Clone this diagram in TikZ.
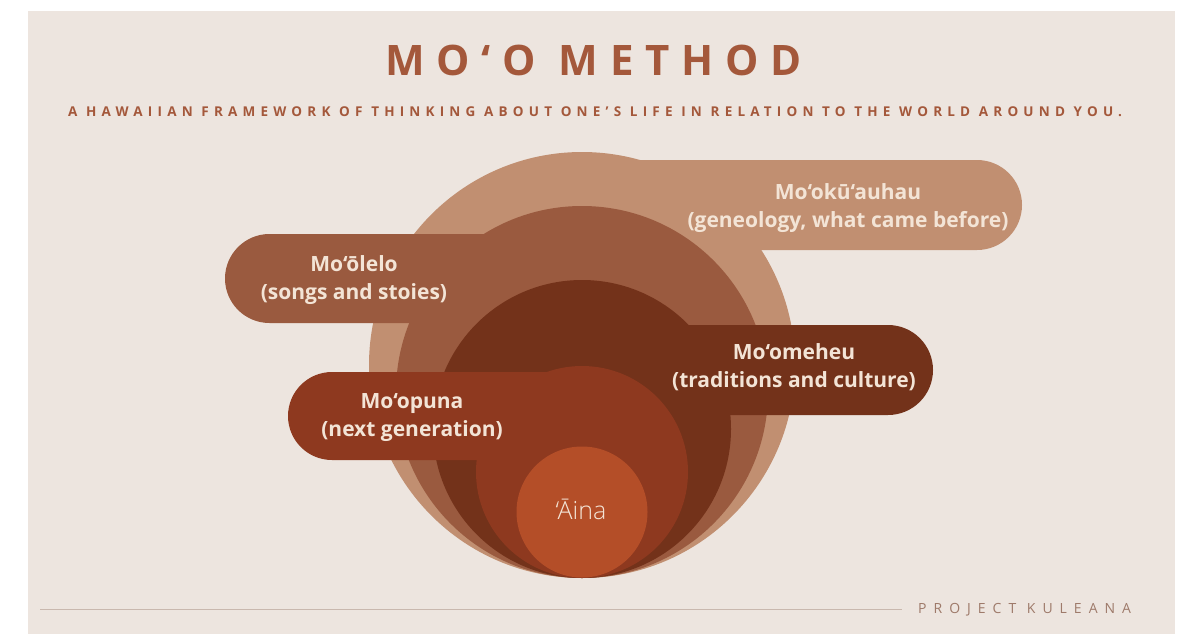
\documentclass[tikz,border=0pt]{standalone}
\usepackage{fontspec}
\setmainfont{Open Sans}
\newfontfamily\thinfont{Open Sans Light}

\definecolor{paper}{HTML}{EDE5DF}
\definecolor{tan}{HTML}{C18F71}
\definecolor{clay}{HTML}{9A5A3F}
\definecolor{umber}{HTML}{73321A}
\definecolor{rust}{HTML}{8E391F}
\definecolor{ember}{HTML}{B44E28}
\definecolor{cream}{HTML}{F3E4D6}
\definecolor{ink}{HTML}{A4583B}
\definecolor{rule}{HTML}{C9B8AE}
\definecolor{faint}{HTML}{9E7A6A}

\tikzset{
  word/.style={anchor=base, text=cream, inner sep=0pt,
    font=\fontsize{21}{24}\selectfont\bfseries},
}

\begin{document}
\begin{tikzpicture}[x=1pt, y=-1pt]
\useasboundingbox (0,0) rectangle (1190,634);
\fill[white] (0,0) rectangle (1190,634);
\fill[paper] (28,11) rectangle (1175,634);

% heading
\node[anchor=west, inner sep=0pt, text=ink, font=\fontsize{42}{42}\selectfont\bfseries\addfontfeature{LetterSpace=28}] (title) at (385,60) {MO‘O METHOD};
\node[anchor=west, inner sep=0pt, text=ink, font=\fontsize{13.5}{14}\selectfont\bfseries\addfontfeature{LetterSpace=38.5}] (subtitle) at (68,112) {A HAWAIIAN FRAMEWORK OF THINKING ABOUT ONE’S LIFE IN RELATION TO THE WORLD AROUND YOU.};

% rings, outermost first, each with its tab
\fill[tan] (582,365) circle (213pt);
\fill[tan, rounded corners=45pt] (540,160) rectangle (1022,250);
\fill[clay] (582,392) circle (186pt);
\fill[clay, rounded corners=44.5pt] (225,234) rectangle (640,323);
\fill[umber] (582,429) circle (149pt);
\fill[umber, rounded corners=45pt] (520,325) rectangle (933,415);
\fill[rust] (582,472) circle (106pt);
\fill[rust, rounded corners=44pt] (288,372) rectangle (640,460);
\fill[ember] (582,512) circle (65.5pt);

% tab texts
\node[word] (okuname) at (848,199) {Mo‘okū‘auhau};
\node[word] (okunote) at (848,227) {(geneology, what came before)};
\node[word] (olename) at (354,271) {Mo‘ōlelo};
\node[word] (olenote) at (354,299) {(songs and stoies)};
\node[word] (mehname) at (794,359) {Mo‘omeheu};
\node[word] (mehnote) at (794,387) {(traditions and culture)};
\node[word] (punname) at (412,408) {Mo‘opuna};
\node[word] (punnote) at (412,436) {(next generation)};
\node[anchor=base, text=cream, font=\fontsize{25}{25}\selectfont\thinfont] (aina) at (581,519) {‘Āina};

% footer
\coordinate (rulestart) at (40,609);
\node[anchor=west, inner sep=0pt, text=faint, font=\fontsize{14}{14}\selectfont\addfontfeature{LetterSpace=50}] (brand) at (918,610) {PROJECT KULEANA};
\draw[rule, line width=1pt] (rulestart) -- (902,609);
\end{tikzpicture}
\end{document}
